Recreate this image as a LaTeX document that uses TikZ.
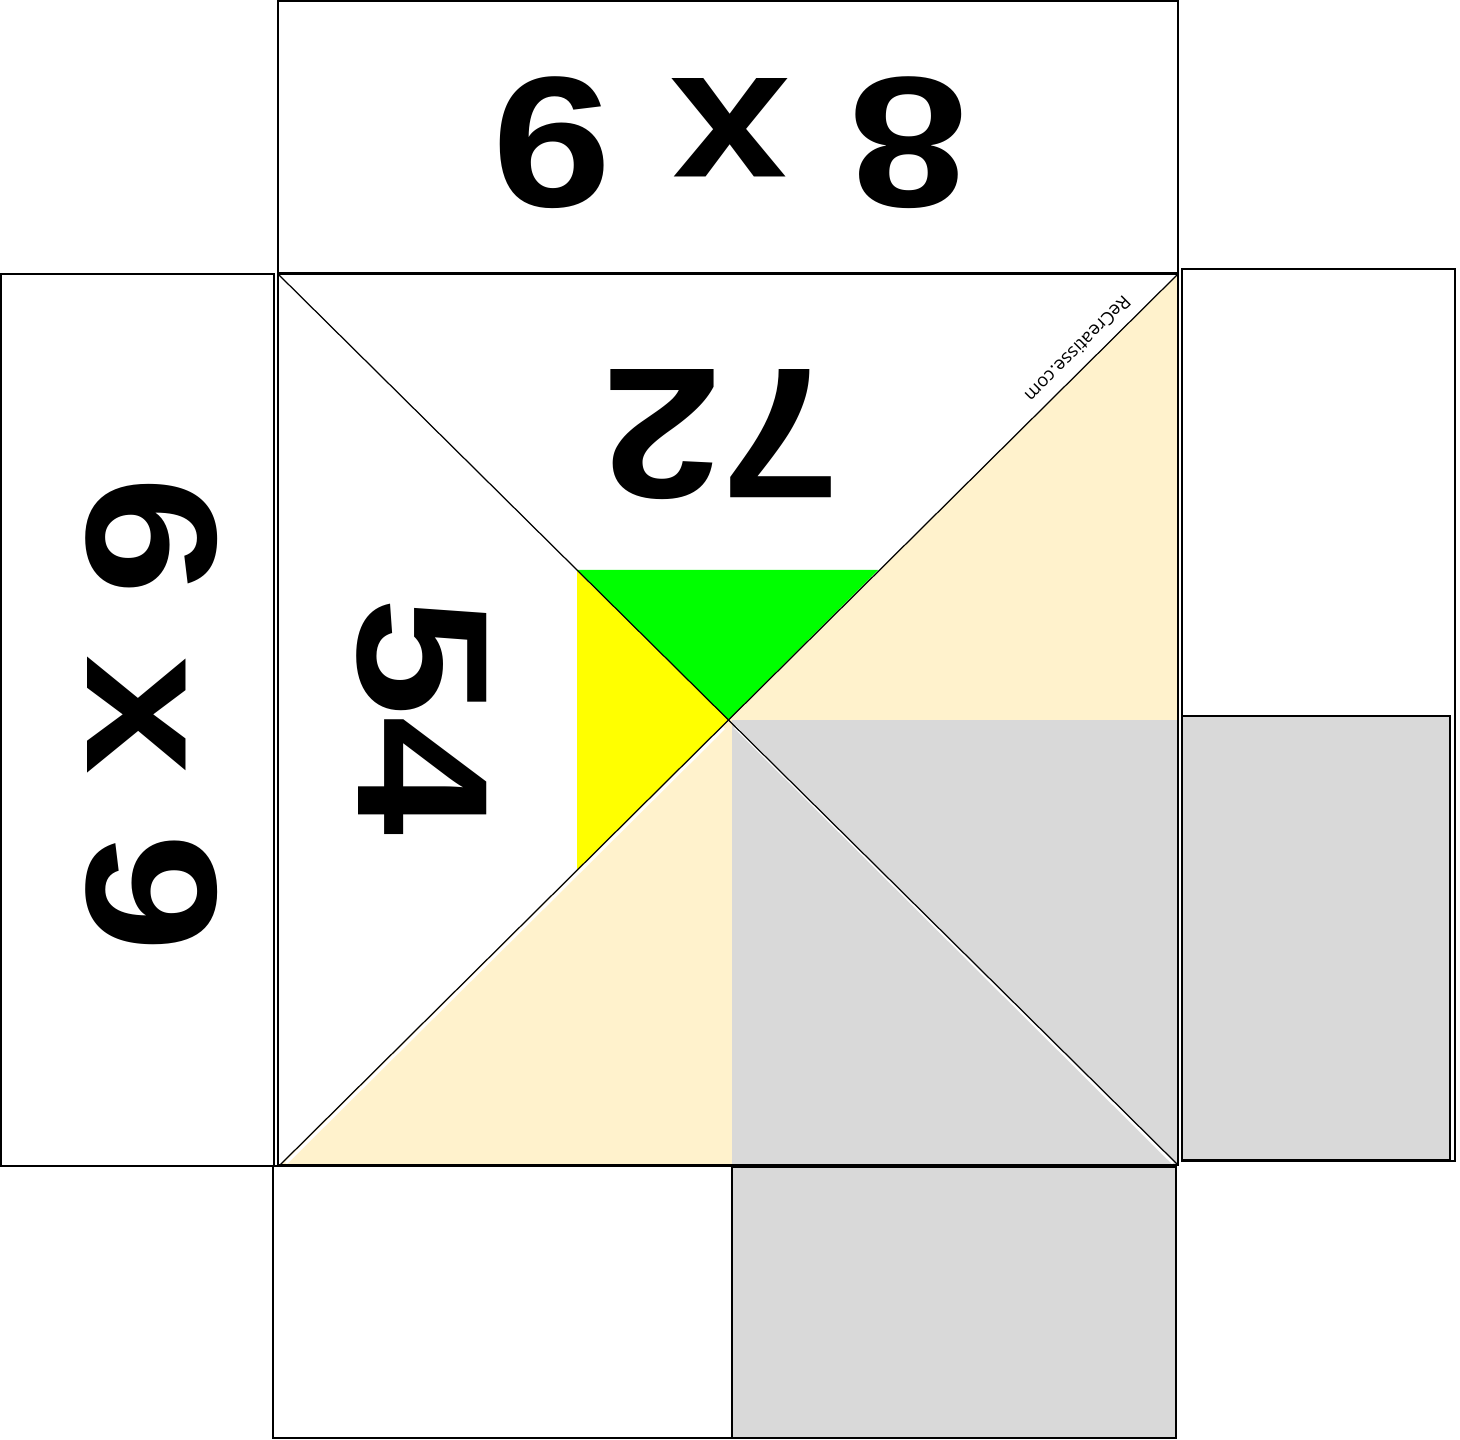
\documentclass[tikz,border=0pt]{standalone}
\usepackage{fontspec}
\setmainfont{Liberation Sans}
\newfontfamily\markfont{Open Sans}
\definecolor{ctBeige}{HTML}{FFF2CC}
\definecolor{ctGray}{HTML}{D9D9D9}
\definecolor{ctGreen}{HTML}{00FF00}
\definecolor{ctYellow}{HTML}{FFFF00}

\begin{document}
\begin{tikzpicture}[
    x=0.01cm, y=-0.01cm,
    panel/.style={draw=black, line width=0.75pt},
    crease/.style={draw=black, line width=0.35pt},
    sheen/.style={draw=white, line width=0.8pt},
    big number/.style={font=\fontsize{53}{60}\selectfont\bfseries, inner sep=0pt, xscale=1.15},
    site mark/.style={font=\markfont\fontsize{5.2}{6}\selectfont, inner sep=0pt}
]
  \useasboundingbox (0,0) rectangle (1460,1440);

  % flaps
  \draw[panel] (278,1) rectangle (1178,273);
  \draw[panel] (1,274) rectangle (274,1166);
  \draw[panel] (1182,269) rectangle (1455,1161);
  \draw[panel, fill=ctGray] (1182,716) rectangle (1450,1160);
  \draw[panel] (273,1166) rectangle (1176,1438);
  \draw[panel, fill=ctGray] (732,1167) rectangle (1176,1438);

  % centre square
  \fill[ctBeige] (728,720) -- (1178,274) -- (1178,720) -- cycle;
  \fill[ctBeige] (728,720) -- (280,1165) -- (732,1165) -- (732,720) -- cycle;
  \fill[ctGray] (732,720) rectangle (1178,1165);
  \fill[ctGreen] (577,570) -- (878,570) -- (728,720) -- cycle;
  \fill[ctYellow] (577,571) -- (728,720) -- (577,870) -- cycle;
  \draw[sheen] (735,727) -- (1173,1163);
  \draw[sheen] (724,728) -- (286,1163);
  \draw[crease] (278,274) -- (1178,1165);
  \draw[crease] (1178,274) -- (280,1165);
  \draw[panel] (278,274) rectangle (1178,1165);

  \node[rotate=180, big number] (flap top) at (730,143) {8 x 9};
  \node[rotate=-90, big number] (flap left) at (152,715) {6 x 9};
  \node[rotate=180, big number] (prod top) at (721,435) {72};
  \node[rotate=-90, big number] (prod left) at (422,717) {54};
  \node[rotate=225, site mark] (site) at (1078,349) {ReCreatisse.com};
\end{tikzpicture}
\end{document}
